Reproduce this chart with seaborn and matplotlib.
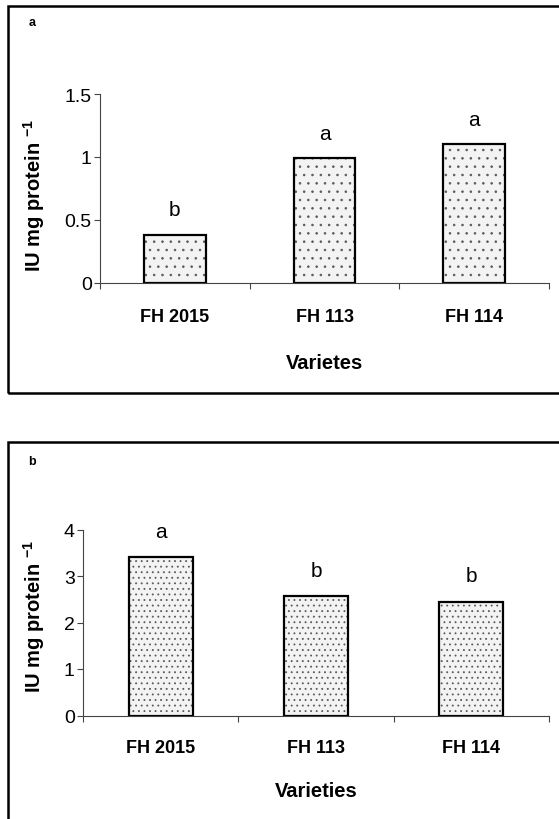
import numpy as np
import pandas as pd
import seaborn as sns
from matplotlib import pyplot as plt
from matplotlib.patches import Rectangle

varieties = ['FH 2015', 'FH 113', 'FH 114']
values_a = [0.38, 0.99, 1.10]
values_b = [3.40, 2.57, 2.45]
letters_a = ['b', 'a', 'a']
letters_b = ['a', 'b', 'b']
yticks_a = [0, 0.5, 1, 1.5]
yticks_b = [0, 1, 2, 3, 4]

sns.set_style('ticks')
plt.rcParams['font.family'] = ['Liberation Sans', 'DejaVu Sans']
plt.rcParams['mathtext.fontset'] = 'custom'
plt.rcParams['mathtext.rm'] = 'Liberation Sans:bold'
plt.rcParams['mathtext.bf'] = 'Liberation Sans:bold'
plt.rcParams['mathtext.default'] = 'bf'
plt.rcParams['hatch.linewidth'] = 0.6
plt.rcParams['text.color'] = 'black'
plt.rcParams['axes.labelcolor'] = 'black'
plt.rcParams['xtick.labelcolor'] = 'black'
plt.rcParams['ytick.labelcolor'] = 'black'

fig = plt.figure(figsize=(5.59, 8.2), dpi=100)

# outer frames around each panel (figure pixels -> fractions)
W, H = 559, 820
fig.add_artist(Rectangle((8 / W, 1 - 394 / H), 1.0, (394 - 7) / H, transform=fig.transFigure,
                         fill=False, edgecolor='black', linewidth=1.8, clip_on=False))
fig.add_artist(Rectangle((8 / W, -0.05), 1.0, 0.05 + 1 - 443 / H, transform=fig.transFigure,
                         fill=False, edgecolor='black', linewidth=1.8, clip_on=False))

panels = [
    dict(pos=[100 / W, 1 - 284 / H, 449 / W, 189 / H], vals=values_a, lets=letters_a,
         off=0.2, ylim=1.5, yt=yticks_a, ytl=['0', '0.5', '1', '1.5'], hatch='..',
         xlabel='Varietes', tag='a', tagy=23, ylx=-0.118, yly=0.47, xly=-0.37, pad=18),
    dict(pos=[83 / W, 1 - 716.5 / H, 466 / W, 186 / H], vals=values_b, lets=letters_b,
         off=0.55, ylim=4, yt=yticks_b, ytl=['0', '1', '2', '3', '4'], hatch='...',
         xlabel='Varieties', tag='b', tagy=462, ylx=-0.078, yly=0.54, xly=-0.35, pad=17),
]

for p in panels:
    ax = fig.add_axes(p['pos'])
    df = pd.DataFrame({'variety': varieties, 'value': p['vals']})
    sns.barplot(data=df, x='variety', y='value', ax=ax, width=0.41, color='#f3f3f3',
                edgecolor='black', linewidth=1.6, hatch=p['hatch'], saturation=1)
    for bar in ax.patches:
        bar._hatch_color = (0.35, 0.35, 0.35, 1)
    for i, (v, l) in enumerate(zip(p['vals'], p['lets'])):
        ax.text(i, v + p['off'], l, ha='center', va='center', fontsize=15)
    ax.set_xlim(-0.5, 2.5)
    ax.set_ylim(0, p['ylim'])
    ax.set_yticks(p['yt'])
    ax.set_yticklabels(p['ytl'], fontsize=14)
    ax.set_xticks([0, 1, 2])
    ax.set_xticklabels(varieties, fontsize=13, fontweight='bold')
    ax.set_xticks([-0.5, 0.5, 1.5, 2.5], minor=True)
    ax.tick_params(axis='x', which='major', length=0, pad=p['pad'])
    ax.tick_params(axis='x', which='minor', length=4, width=0.8, color='#444444')
    ax.tick_params(axis='y', length=4, width=0.8, color='#444444', pad=2)
    for s in ['top', 'right']:
        ax.spines[s].set_visible(False)
    for s in ['left', 'bottom']:
        ax.spines[s].set_linewidth(0.8)
        ax.spines[s].set_color('#444444')
    ax.set_ylabel(r'IU mg protein $^{-1}$', fontsize=14.5, fontweight='bold')
    ax.yaxis.set_label_coords(p['ylx'], p['yly'])
    ax.set_xlabel(p['xlabel'], fontsize=14.5, fontweight='bold')
    ax.xaxis.set_label_coords(0.5, p['xly'])
    ax.patch.set_alpha(0)
    fig.text(32 / W, 1 - p['tagy'] / H, p['tag'], fontsize=9, fontweight='bold',
             ha='center', va='center')

fig.savefig('out.png', dpi=100)
